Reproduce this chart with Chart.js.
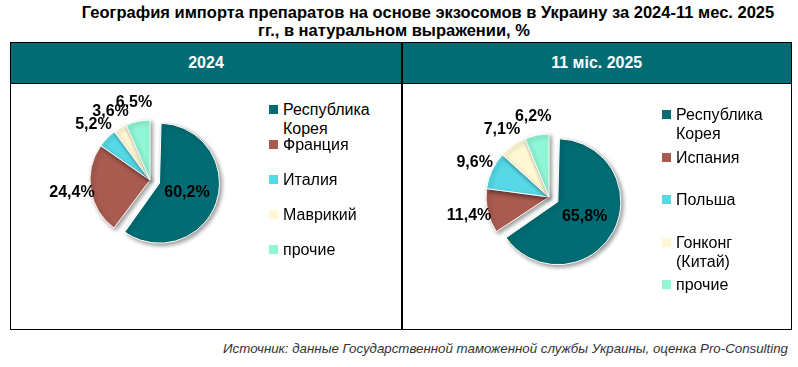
<!DOCTYPE html>
<html>
<head>
<meta charset="UTF-8">
<title>География импорта препаратов на основе экзосомов</title>
<script src="https://cdn.jsdelivr.net/npm/chart.js@4.4.1/dist/chart.umd.min.js"></script>
<style>
    body { margin: 0; background: #fff; font-family: "Liberation Sans", Arial, sans-serif; }
    #wrap { position: relative; width: 798px; height: 367px; overflow: hidden; }
    .title { position: absolute; font-weight: bold; font-size: 16.5px; color: #000; white-space: nowrap; transform: translateX(-50%); }
    #box { position: absolute; left: 10px; top: 42px; width: 780px; height: 286px; border: 1.5px solid #000; }
    .head { position: absolute; top: 0; height: 40px; background: #016c73; color: #fff; font-weight: bold; font-size: 16px;
            line-height: 40px; text-align: center; border-bottom: 1.5px solid #000; }
    #divider { position: absolute; left: 390px; top: 0; width: 1.5px; height: 286px; background: #000; }
    canvas { position: absolute; }
    .legend { position: absolute; font-size: 16px; color: #000; }
    .legend .item { position: absolute; left: 0; width: 110px; line-height: 19px; }
    .legend .mark { position: absolute; left: -14px; top: 5px; width: 9px; height: 9px; }
    .legend .txt { display: block; width: 100px; }
    #source { position: absolute; right: 10px; top: 341px; font-style: italic; font-size: 13.3px; color: #333; white-space: nowrap; }
</style>
</head>
<body>
<div id="wrap">
    <div class="title" style="left:428px; top:3px;">География импорта препаратов на основе экзосомов в Украину за 2024-11 мес. 2025</div>
    <div class="title" style="left:394px; top:21px;">гг., в натуральном выражении, %</div>

    <div id="box">
        <div class="head" style="left:0; width:390px;" id="head1"></div>
        <div class="head" style="left:391.5px; width:388.5px;" id="head2"></div>
        <div id="divider"></div>
    </div>

    <canvas id="pie1" width="260" height="184" style="left:20px; top:88px; width:260px; height:184px;"></canvas>
    <canvas id="pie2" width="260" height="200" style="left:419px; top:97px; width:260px; height:200px;"></canvas>

    <div class="legend" id="legend1" style="left:283px; top:100px;"></div>
    <div class="legend" id="legend2" style="left:676px; top:105px;"></div>

    <div id="source">Источник: данные Государственной таможенной службы Украины, оценка Pro-Consulting</div>
</div>

<script>
// данные
var period1 = '2024';
var period2 = '11 міс. 2025';

var countries2024 = ['Республика Корея', 'Франция', 'Италия', 'Маврикий', 'прочие'];
var shares2024 = [60.2, 24.4, 5.2, 3.6, 6.5];

var countries2025 = ['Республика Корея', 'Испания', 'Польша', 'Гонконг (Китай)', 'прочие'];
var shares2025 = [65.8, 11.4, 9.6, 7.1, 6.2];

var sliceColors = ['#016c73', '#a95b50', '#56d8e6', '#fff8d2', '#90f7d6'];

document.getElementById('head1').textContent = period1;
document.getElementById('head2').textContent = period2;

// легенда в html, чтобы переносить длинные названия
function buildLegend(id, labels, step) {
    var el = document.getElementById(id);
    labels.forEach(function (lab, i) {
        var item = document.createElement('div');
        item.className = 'item';
        item.style.top = (i * step) + 'px';
        var m = document.createElement('span');
        m.className = 'mark';
        m.style.background = sliceColors[i];
        var t = document.createElement('span');
        t.className = 'txt';
        t.textContent = lab;
        item.appendChild(m);
        item.appendChild(t);
        el.appendChild(item);
    });
}
buildLegend('legend1', countries2024, 35);
buildLegend('legend2', countries2025, 42.5);

// chart.js v4 рисует сдвинутый сектор >180° с увеличенным радиусом, возвращаем радиус обратно
var explodeFix = {
    id: 'explodeFix',
    afterDatasetsUpdate: function (chart) {
        var ds = chart.data.datasets[0];
        chart.getDatasetMeta(0).data.forEach(function (arc, i) {
            var off = (ds.offset[i] || 0) / 4;
            if (arc.endAngle - arc.startAngle > Math.PI) arc.outerRadius -= off;
        });
    }
};

// тень под секторами
var shadowPlugin = {
    id: 'shadow',
    beforeDatasetsDraw: function (chart) {
        var ctx = chart.ctx;
        ctx.save();
        ctx.shadowColor = 'rgba(0,0,0,0.4)';
        ctx.shadowBlur = 4;
        ctx.shadowOffsetX = 2;
        ctx.shadowOffsetY = 2;
    },
    afterDatasetsDraw: function (chart) {
        chart.ctx.restore();
    }
};

// подписи процентов: первый сектор внутри, остальные снаружи
var labelPlugin = {
    id: 'pctLabels',
    afterDraw: function (chart) {
        var ctx = chart.ctx;
        var ds = chart.data.datasets[0];
        var meta = chart.getDatasetMeta(0);
        ctx.save();
        ctx.font = 'bold 16px "Liberation Sans", Arial, sans-serif';
        ctx.fillStyle = '#000';
        ctx.textAlign = 'center';
        ctx.textBaseline = 'middle';
        meta.data.forEach(function (arc, i) {
            var mid = (arc.startAngle + arc.endAngle) / 2;
            var off = (ds.offset[i] || 0) / 4;
            var d = i === 0 ? arc.outerRadius / 2 + off * 1.4 : arc.outerRadius + 19;
            var txt = ds.data[i].toFixed(1).replace('.', ',') + '%';
            ctx.fillText(txt, arc.x + Math.cos(mid) * d, arc.y + Math.sin(mid) * d);
        });
        ctx.restore();
    }
};

function makePie(id, labels, values, r) {
    return new Chart(document.getElementById(id).getContext('2d'), {
        type: 'pie',
        data: {
            labels: labels,
            datasets: [{
                data: values,
                backgroundColor: sliceColors,
                borderColor: '#fff',
                borderWidth: 1,
                offset: [40, 0, 0, 0, 0],
                radius: r
            }]
        },
        options: {
            responsive: false,
            animation: false,
            layout: { padding: 0 },
            plugins: {
                legend: { display: false },
                tooltip: { enabled: false }
            }
        },
        plugins: [explodeFix, shadowPlugin, labelPlugin]
    });
}

makePie('pie1', countries2024, shares2024, 60);
makePie('pie2', countries2025, shares2025, 63);
</script>
</body>
</html>
